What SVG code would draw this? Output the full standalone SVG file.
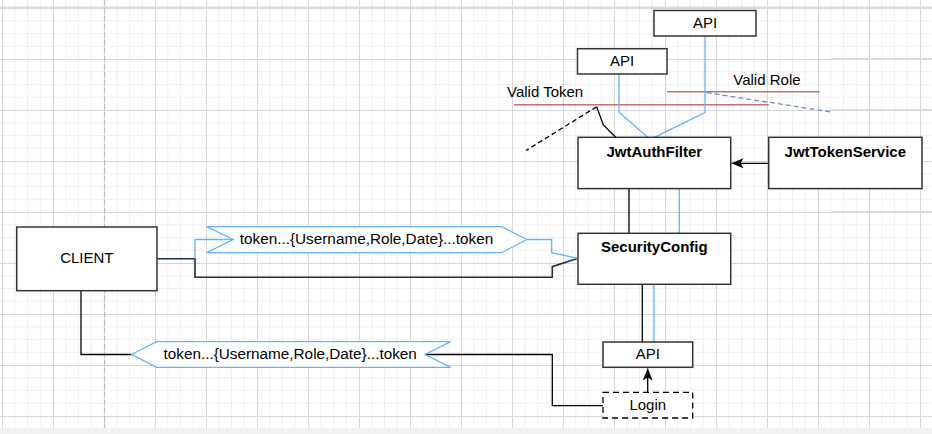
<svg xmlns="http://www.w3.org/2000/svg" width="932" height="434" viewBox="0 0 932 434">
<style>
text{font-family:"Liberation Sans",Arial,sans-serif;font-size:15px;fill:#000;text-anchor:middle}
.b{font-weight:bold}
.t{font-size:15.3px}
.box{fill:#fff;stroke:#333;stroke-width:1.5}
.k{fill:none;stroke:#000;stroke-width:1.3}
.bl{fill:none;stroke:#66B2FF;stroke-width:1.3}
.red{fill:none;stroke:#c9706c;stroke-width:1.6}
.lbl{fill:#fff;stroke:#66B2FF;stroke-width:1.3}
</style>
<defs>
<pattern id="grid" x="2" y="8" width="51" height="51" patternUnits="userSpaceOnUse">
<path d="M12.75 0V51M25.5 0V51M38.25 0V51M0 12.75H51M0 25.5H51M0 38.25H51" stroke="#f0f0f0" stroke-width="1" fill="none"/>
<path d="M0.5 0V51M0 0.5H51" stroke="#d6d6d6" stroke-width="1" fill="none"/>
</pattern>
<marker id="arr" viewBox="0 0 12 10" refX="12" refY="5" markerWidth="12" markerHeight="10" markerUnits="userSpaceOnUse" orient="auto">
<path d="M12,5 L0,0 L3,5 L0,10 Z" fill="#000"/>
</marker>
</defs>
<g id="background">
<rect x="0" y="0" width="932" height="434" fill="#fff"/>
<rect x="0" y="0" width="932" height="428" fill="url(#grid)"/>
<rect x="0" y="6.5" width="932" height="2" fill="#dcdcdc"/>
<path d="M831 59H932M831 110H932M831 212H932" stroke="#dadada" stroke-width="2" fill="none"/>
<path d="M104.5 0V428" stroke="#bdbdbd" stroke-width="1.3" stroke-dasharray="5 3" fill="none"/>
<rect x="0" y="428" width="932" height="6" fill="#f1f1f1"/>
</g>
<g id="connectors">
<path class="red" d="M514 104.7H768.7"/>
<path class="red" d="M667 91.7H819.7"/>
<path d="M706.7 92.7L833 112.2" fill="none" stroke="#6c8ebf" stroke-width="1.3" stroke-dasharray="5 3"/>
<path d="M596.7 106.7L526 150.5" fill="none" stroke="#000" stroke-width="1.3" stroke-dasharray="5 3"/>
<path class="k" d="M596.7 106.7L603.3 125L616 137.5"/>
<path class="bl" d="M619 74V112.3L647.7 137.3"/>
<path class="bl" d="M705 36V112.7L654.3 137.3"/>
<path class="k" d="M768.7 163.3H731.5" marker-end="url(#arr)"/>
<path class="k" d="M629 189V233.3"/>
<path class="bl" d="M679.3 189V233.3"/>
<path class="k" d="M642.3 284.5V342"/>
<path class="bl" d="M654 284.5V342"/>
<path class="k" d="M647.7 392.3V368.5" marker-end="url(#arr)"/>
<path d="M157 258.7H195V277.3H552.3V266.7L578 258.3" fill="none" stroke="#1f2d3d" stroke-width="1.6"/>
<path class="bl" d="M195 258.7V239.5H233.3"/>
<path class="bl" d="M526.7 239.5H551.7V252.7L578 258.3"/>
<path class="k" d="M81 291V354.5H131.7"/>
<path class="k" d="M603 405.7H552.3V354.5H425"/>
<g id="label-top">
<path class="lbl" d="M206.7 226.7H501.7L526.7 239.5L501.7 252.7H206.7L233.3 239.5Z"/>
<text class="t" x="366.5" y="244">token...{Username,Role,Date}...token</text>
</g>
<g id="label-bottom">
<path class="lbl" d="M156.7 341.7H450.7L425 354.5L450.7 367.3H156.7L131.7 354.5Z"/>
<text class="t" x="290.2" y="358.7">token...{Username,Role,Date}...token</text>
</g>
<text x="507" y="96.5" style="text-anchor:start">Valid Token</text>
<text x="733.3" y="84.5" style="text-anchor:start">Valid Role</text>
</g>
<g id="api-top">
<rect class="box" x="654" y="10.5" width="102" height="25.5"/>
<text x="705" y="28.3">API</text>
</g>
<g id="api-second">
<rect class="box" x="577.5" y="48.7" width="89.5" height="25.3"/>
<text x="622.2" y="65.7">API</text>
</g>
<g id="jwt-auth-filter">
<rect class="box" x="578" y="137.3" width="152.7" height="51.3"/>
<text class="b" x="654.3" y="156.5">JwtAuthFilter</text>
</g>
<g id="jwt-token-service">
<rect class="box" x="768.7" y="137.3" width="153.3" height="51.3"/>
<text class="b" x="845.3" y="156.5">JwtTokenService</text>
</g>
<g id="security-config">
<rect class="box" x="578" y="233.3" width="152.7" height="51"/>
<text class="b" x="654.3" y="252">SecurityConfig</text>
</g>
<g id="client">
<rect class="box" x="16.7" y="227" width="140.3" height="63.7"/>
<text x="86.8" y="262.7">CLIENT</text>
</g>
<g id="api-bottom">
<rect class="box" x="603" y="342" width="89.7" height="25.3"/>
<text x="647.8" y="359">API</text>
</g>
<g id="login">
<rect x="603" y="392.3" width="89.7" height="25.7" fill="#fff" stroke="#000" stroke-width="1.3" stroke-dasharray="6 4"/>
<text x="647.8" y="410">Login</text>
</g>
</svg>
